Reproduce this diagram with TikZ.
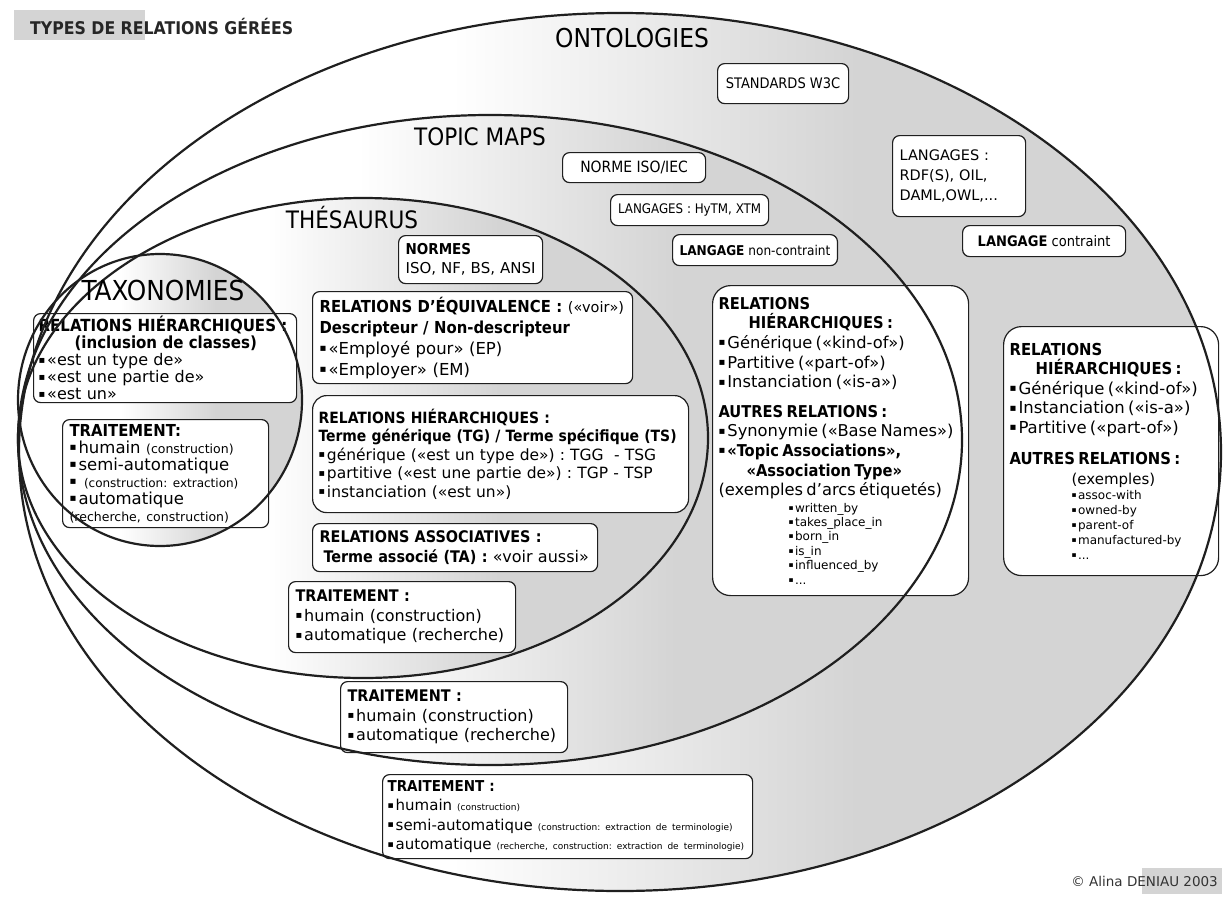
\documentclass[tikz,border=0pt]{standalone}
\usepackage{fontspec}
\setmainfont{DejaVu Sans}[BoldFont={DejaVu Sans Condensed Bold}]
\newfontfamily\zonefont{DejaVu Sans Condensed}
\definecolor{zonegray}{gray}{0.83}
\definecolor{inkline}{gray}{0.12}
\pgfdeclarehorizontalshading{zonefade}{100bp}{color(0bp)=(white); color(43bp)=(white); color(60bp)=(zonegray); color(100bp)=(zonegray)}
\newcommand\fs[2]{\fontsize{#1}{#2}\selectfont}
% small square bullet
\newcommand\puce{\raisebox{0.16em}{\scalebox{0.62}{▪}}\kern0.12em}
\frenchspacing
\tikzset{
  zone/.style={draw=inkline, line width=2.2pt},
  box/.style={draw=inkline, fill=white, line width=1.2pt, rounded corners=7pt,
    anchor=north west, align=left, inner xsep=7pt, inner ysep=0pt},
  onebox/.style={box, align=center, font=\zonefont\fs{#1}{16}},
  zonetitle/.style={inner sep=0pt, text=black, font=\zonefont\fs{#1}{30}},
}
\begin{document}
\begin{tikzpicture}[x=1pt,y=-1pt]
\useasboundingbox (0,0) rectangle (1226,897);
\fill[white] (0,0) rectangle (1226,897);

% grey patches behind the title and the credit
\fill[zonegray] (14,10) rectangle (145,40);
\fill[zonegray] (1142,868) rectangle (1222,894);

% the four nested zones, shaded from white to grey
\shade[shading=zonefade] (620,452) ellipse [x radius=601, y radius=439];
\shade[shading=zonefade] (490,440) ellipse [x radius=472, y radius=325];
\shade[shading=zonefade] (363,438) ellipse [x radius=345, y radius=240];
\shade[shading=zonefade] (160,400) ellipse [x radius=142, y radius=146];

% ---------- Taxonomies ----------
\node[box, font=\fs{16}{17}, inner xsep=5pt, minimum width=263, minimum height=89, text width=253] (taxrel) at (33,313)
 {\textbf{\fs{16.7}{17}RELATIONS HIÉRARCHIQUES :}\\
  \hspace*{36pt}\textbf{\fs{16.7}{17}(inclusion de classes)}\\
  \puce«est un type de»\\
  \puce«est une partie de»\\
  \puce«est un»};
\node[box, font=\fs{16.5}{17}, minimum width=206, minimum height=108, text width=192] (taxtrt) at (62,419)
 {\textbf{TRAITEMENT:}\\
  \puce humain {\fs{12.5}{13}(construction)}\\
  \puce semi-automatique\\
  \puce\ {\fs{12}{13}(construction: extraction)}\\
  \puce automatique\\
  {\fs{12.5}{13}(recherche, construction)}};

% ---------- Thésaurus ----------
\node[box, font=\fs{15}{19}, minimum width=144, minimum height=48, text width=130] (normes) at (398,235)
 {\textbf{NORMES}\\ISO, NF, BS, ANSI};
\node[box, font=\fs{16.5}{21}, minimum width=320, minimum height=92, text width=306] (equiv) at (312,291)
 {\textbf{RELATIONS D'ÉQUIVALENCE :} {\fs{14.5}{15}(«voir»)}\\
  \textbf{Descripteur / Non-descripteur}\\
  \puce«Employé pour» (EP)\\
  \puce«Employer» (EM)};
\node[box, font=\fs{15.5}{18.5}, rounded corners=14pt, minimum width=376, minimum height=117, text width=364, inner xsep=6pt] (thhier) at (312,395)
 {\textbf{RELATIONS HIÉRARCHIQUES :}\\
  \textbf{Terme générique (TG) / Terme spécifique (TS)}\\
  \puce générique («est un type de») : TGG \ - TSG\\
  \puce partitive («est une partie de») : TGP - TSP\\
  \puce instanciation («est un»)};
\node[box, font=\fs{16}{20}, minimum width=285, minimum height=48, text width=271] (assoc) at (312,523)
 {\textbf{RELATIONS ASSOCIATIVES :}\\
  \hspace*{4pt}\textbf{Terme associé (TA) :} «voir aussi»};
\node[box, font=\fs{16}{19.5}, minimum width=227, minimum height=71, text width=213] (thtrt) at (288,581)
 {\textbf{TRAITEMENT :}\\\puce humain (construction)\\\puce automatique (recherche)};

% ---------- Topic Maps ----------
\node[onebox=15.5, minimum width=143, minimum height=30] (iso) at (562,152) {NORME ISO/IEC};
\node[onebox=13.2, minimum width=158, minimum height=31] (hytm) at (610,194) {LANGAGES : HyTM, XTM};
\node[onebox=13.5, minimum width=164, minimum height=31] (noncon) at (672,234) {\textbf{LANGAGE} non-contraint};
\node[box, rounded corners=18pt, inner xsep=6pt, minimum width=256, minimum height=310, text width=244] (tmrel) at (712,285)
 {{\fs{16.3}{19.6}%
   \textbf{RELATIONS}\\
   \hspace*{30pt}\textbf{HIÉRARCHIQUES :}\\
   \puce Générique («kind-of»)\\
   \puce Partitive («part-of»)\\
   \puce Instanciation («is-a»)\par}
  \vspace{10pt}
  {\fs{16.3}{19.6}%
   \textbf{AUTRES RELATIONS :}\\
   \puce Synonymie («Base Names»)\\
   \puce\textbf{«Topic Associations»,}\\
   \hspace*{28pt}\textbf{«Association Type»}\\
   (exemples d'arcs étiquetés)\par}
  \vspace{2pt}
  {\fs{12}{14.4}\leftskip=70pt
   \puce written\_by\\\puce takes\_place\_in\\\puce born\_in\\\puce is\_in\\\puce influenced\_by\\\puce...\par}};
\node[box, font=\fs{16}{19.5}, minimum width=227, minimum height=71, text width=213] (tmtrt) at (340,681)
 {\textbf{TRAITEMENT :}\\\puce humain (construction)\\\puce automatique (recherche)};

% ---------- Ontologies ----------
\node[onebox=14.5, minimum width=131, minimum height=40] (w3c) at (717,63) {STANDARDS W3C};
\node[box, font=\fs{14.5}{20}, minimum width=133, minimum height=81, text width=119] (langs) at (892,135)
 {LANGAGES :\\RDF(S), OIL,\\DAML,OWL,...};
\node[onebox=14.5, minimum width=163, minimum height=31] (contr) at (962,225) {\textbf{LANGAGE} contraint};
\node[box, rounded corners=18pt, inner xsep=6pt, minimum width=215, minimum height=249, text width=203] (onrel) at (1003,326)
 {{\fs{16.5}{19.5}%
   \textbf{RELATIONS}\\
   \hspace*{26pt}\textbf{HIÉRARCHIQUES :}\\
   \puce Générique («kind-of»)\\
   \puce Instanciation («is-a»)\\
   \puce Partitive («part-of»)\par}
  \vspace{12pt}
  {\fs{16.5}{19.5}%
   \textbf{AUTRES RELATIONS :}\\
   \hspace*{62pt}{\fs{15}{19}(exemples)}\par}
  {\fs{12}{15}\leftskip=62pt
   \puce assoc-with\\\puce owned-by\\\puce parent-of\\\puce manufactured-by\\\puce...\par}};
\node[box, font=\fs{15}{19.5}, minimum width=370, minimum height=84, text width=360, inner xsep=5pt] (ontrt) at (382,774)
 {\textbf{TRAITEMENT :}\\
  \puce humain {\fs{9}{12}(construction)}\\
  \puce semi-automatique {\fs{9}{12}(construction: extraction de terminologie)}\\
  \puce automatique {\fs{9}{12}(recherche, construction: extraction de terminologie)}};

% zone outlines, drawn over the boxes
\draw[zone] (620,452) ellipse [x radius=601, y radius=439];
\draw[zone] (490,440) ellipse [x radius=472, y radius=325];
\draw[zone] (363,438) ellipse [x radius=345, y radius=240];
\draw[zone] (160,400) ellipse [x radius=142, y radius=146];

% zone names
\node[zonetitle=26] (ontoname) at (632,38) {ONTOLOGIES};
\node[zonetitle=24] (tmname) at (480,137) {TOPIC MAPS};
\node[zonetitle=24] (thname) at (352,218) {THÉSAURUS};
\node[zonetitle=27.5] (taxname) at (163,290) {TAXONOMIES};

% title and credit
\node[inner sep=0pt, anchor=west, font=\fs{17.5}{20}\bfseries, text=black!85] (title) at (30,27) {TYPES DE RELATIONS GÉRÉES};
\node[inner sep=0pt, anchor=east, font=\fs{13.5}{16}, text=black!80] (credit) at (1218,881) {© Alina DENIAU 2003};
\end{tikzpicture}
\end{document}
